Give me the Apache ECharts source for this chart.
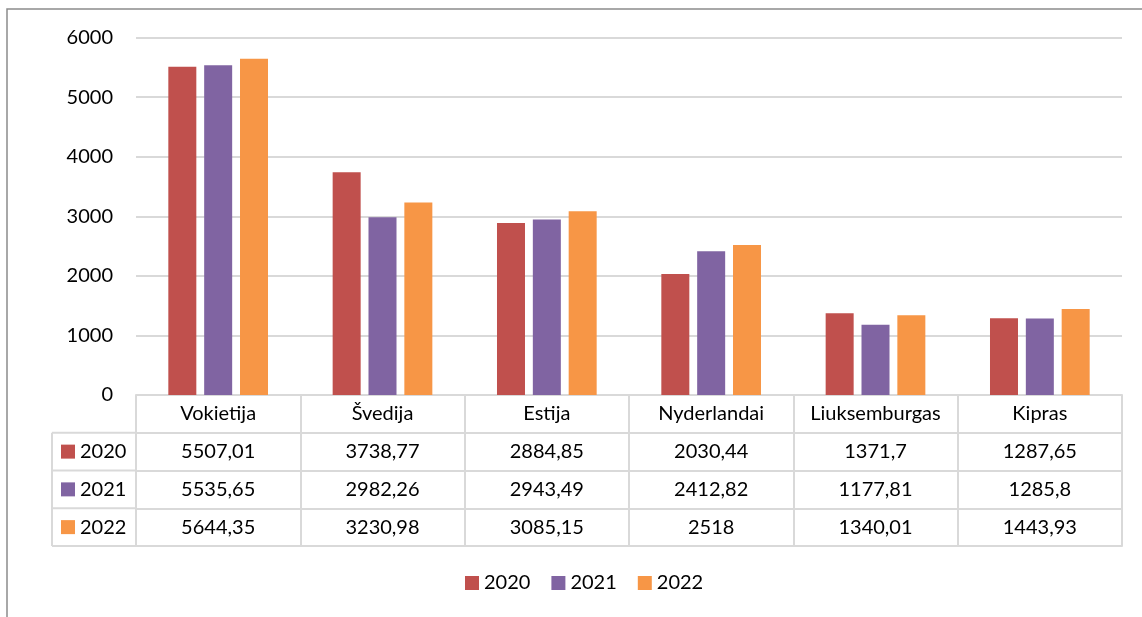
<!DOCTYPE html>
<html>
<head>
<meta charset="utf-8">
<script src="https://cdn.jsdelivr.net/npm/echarts@6/dist/echarts.min.js"></script>
<style>
  html, body { margin: 0; padding: 0; background: #fff; }
  #main { width: 1142px; height: 617px; }
</style>
</head>
<body>
<div id="main"></div>
<script>
const categories = ['Vokietija', 'Švedija', 'Estija', 'Nyderlandai', 'Liuksemburgas', 'Kipras']
const years = ['2020', '2021', '2022']
const values2020 = [5507.01, 3738.77, 2884.85, 2030.44, 1371.7, 1287.65]
const values2021 = [5535.65, 2982.26, 2943.49, 2412.82, 1177.81, 1285.8]
const values2022 = [5644.35, 3230.98, 3085.15, 2518, 1340.01, 1443.93]
const yTicks = [0, 1000, 2000, 3000, 4000, 5000, 6000]
const colors = ['#C0504D', '#8064A2', '#F79646']

const seriesValues = [values2020, values2021, values2022]
const font = 'Lato, "Open Sans", sans-serif'
const fontSize = 20
const lineColor = '#d9d9d9'
const gridTop = 37.5
const gridBottom = 222
const gridLeft = 136
const gridRight = 20
const zeroY = 617 - gridBottom
const rowH = 37.75
const tableLeft = 52

// comma as decimal separator like in the source
function fmt(v) {
  return String(v).replace('.', ',')
}

function tableAxis(labels, offset, showTick) {
  return {
    type: 'category',
    position: 'bottom',
    gridIndex: 0,
    offset: offset,
    data: labels,
    axisLine: { show: true, lineStyle: { color: lineColor, width: 2 } },
    axisTick: { show: showTick, length: rowH, lineStyle: { color: lineColor, width: 2 } },
    axisLabel: {
      show: true,
      interval: 0,
      margin: rowH / 2,
      verticalAlign: 'middle',
      color: '#000',
      fontFamily: font,
      fontSize: fontSize
    },
    splitLine: { show: false }
  }
}

function leftColumn() {
  const items = []
  const bottom = zeroY + rowH * 4
  items.push({
    type: 'line',
    shape: { x1: tableLeft, y1: zeroY + rowH, x2: tableLeft, y2: bottom },
    style: { stroke: lineColor, lineWidth: 2 }
  })
  for (let i = 1; i <= 4; i++) {
    const y = zeroY + rowH * i
    items.push({
      type: 'line',
      shape: { x1: tableLeft, y1: y, x2: gridLeft, y2: y },
      style: { stroke: lineColor, lineWidth: 2 }
    })
  }
  years.forEach((year, i) => {
    const cy = zeroY + rowH * (i + 1) + rowH / 2
    items.push({
      type: 'rect',
      shape: { x: 61, y: cy - 7, width: 14, height: 14 },
      style: { fill: colors[i] }
    })
    items.push({
      type: 'text',
      x: 80,
      y: cy,
      style: {
        text: year,
        fill: '#000',
        font: fontSize + 'px ' + font,
        textVerticalAlign: 'middle'
      }
    })
  })
  // outer chart border
  items.push({
    type: 'rect',
    shape: { x: 7, y: 9, width: 1200, height: 700 },
    style: { fill: 'none', stroke: '#8c8c8c', lineWidth: 1.5 }
  })
  return items
}

const myChart = echarts.init(document.getElementById('main'))
const option = {
  animation: false,
  color: colors,
  grid: { left: gridLeft, right: gridRight, top: gridTop, bottom: gridBottom },
  legend: {
    data: years,
    bottom: 19,
    left: 460,
    icon: 'rect',
    itemWidth: 14,
    itemHeight: 14,
    itemGap: 21,
    textStyle: { color: '#000', fontFamily: font, fontSize: fontSize }
  },
  xAxis: [
    tableAxis(categories, 0, true),
    tableAxis(values2020.map(fmt), rowH, true),
    tableAxis(values2021.map(fmt), rowH * 2, true),
    tableAxis(values2022.map(fmt), rowH * 3, true),
    Object.assign(tableAxis(categories.map(() => ''), rowH * 4, false), { axisLabel: { show: false } })
  ],
  yAxis: {
    type: 'value',
    min: yTicks[0],
    max: yTicks[yTicks.length - 1],
    interval: yTicks[1] - yTicks[0],
    axisLine: { show: false },
    axisTick: { show: false },
    axisLabel: {
      margin: 23,
      color: '#000',
      fontFamily: font,
      fontSize: fontSize,
      formatter: v => String(v)
    },
    splitLine: { lineStyle: { color: lineColor, width: 2 } }
  },
  series: years.map((year, i) => ({
    type: 'bar',
    name: year,
    xAxisIndex: 0,
    data: seriesValues[i],
    barWidth: 28,
    barGap: '28%',
    itemStyle: { color: colors[i] }
  })),
  graphic: leftColumn()
}
myChart.setOption(option)
window.onresize = function () {
  myChart.resize()
}
</script>
</body>
</html>
